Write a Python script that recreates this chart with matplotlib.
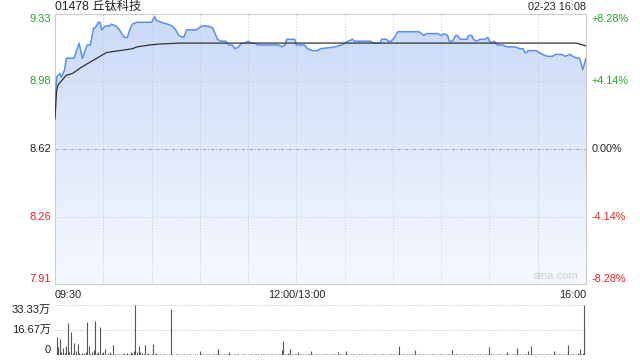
import matplotlib
matplotlib.use('Agg')
import matplotlib.pyplot as plt
import numpy as np
from matplotlib.colors import LinearSegmentedColormap

plt.rcParams['font.family'] = ['Liberation Sans', 'Noto Sans CJK SC']

# minutes since 09:30 (lunch removed, 330 = 16:00) and price
price_min = [0, 1, 3, 4, 6, 7, 9, 12, 13, 15, 17, 20, 22, 24, 25, 27, 28, 29, 31, 34,
             35, 38, 40, 43, 45, 46, 48, 51, 60, 62, 63, 66, 70, 73, 75, 77, 80, 82, 88, 91,
             95, 98, 101, 103, 106, 108, 110, 112, 114, 116, 118, 120, 122, 124, 126, 132, 134, 139, 141, 143,
             144, 149, 150, 155, 157, 160, 163, 165, 174, 178, 180, 182, 185, 186, 196, 198, 202, 203, 206, 207,
             209, 211, 213, 214, 216, 219, 226, 228, 229, 231, 238, 240, 242, 244, 245, 247, 249, 250, 252, 256,
             257, 259, 260, 262, 264, 267, 269, 270, 272, 273, 274, 275, 278, 281, 285, 286, 289, 291, 292, 293,
             294, 299, 301, 303, 306, 309, 311, 313, 315, 317, 320, 322, 324, 326, 328, 330]
price = [8.85, 9.00, 9.02, 9.00, 9.04, 9.10, 9.10, 9.10, 9.13, 9.18, 9.10, 9.17, 9.17, 9.26, 9.26, 9.29, 9.29, 9.25, 9.27, 9.27,
         9.28, 9.27, 9.25, 9.21, 9.21, 9.24, 9.28, 9.29, 9.29, 9.32, 9.30, 9.29, 9.28, 9.27, 9.25, 9.22, 9.21, 9.25, 9.25, 9.27,
         9.27, 9.26, 9.20, 9.19, 9.19, 9.17, 9.17, 9.15, 9.16, 9.18, 9.18, 9.19, 9.18, 9.18, 9.17, 9.17, 9.17, 9.17, 9.16, 9.17,
         9.20, 9.20, 9.17, 9.17, 9.15, 9.14, 9.14, 9.15, 9.16, 9.17, 9.18, 9.19, 9.20, 9.19, 9.19, 9.18, 9.18, 9.20, 9.20, 9.19,
         9.19, 9.21, 9.24, 9.24, 9.24, 9.24, 9.24, 9.23, 9.22, 9.23, 9.23, 9.22, 9.23, 9.22, 9.19, 9.19, 9.22, 9.22, 9.20, 9.20,
         9.22, 9.22, 9.20, 9.19, 9.20, 9.20, 9.21, 9.19, 9.18, 9.19, 9.18, 9.17, 9.17, 9.16, 9.16, 9.16, 9.15, 9.15, 9.13, 9.13,
         9.14, 9.14, 9.13, 9.12, 9.11, 9.11, 9.12, 9.12, 9.12, 9.11, 9.12, 9.11, 9.10, 9.10, 9.04, 9.10]

avg_min = [0, 1, 2, 5, 7, 11, 16, 20, 24, 28, 32, 40, 48, 51, 59, 65, 78, 150, 250, 324, 328, 330]
avg = [8.78, 8.93, 8.96, 8.99, 9.01, 9.02, 9.05, 9.07, 9.09, 9.11, 9.13, 9.14, 9.15, 9.16, 9.17, 9.175,
       9.18, 9.18, 9.18, 9.18, 9.17, 9.165]

# volume per minute, unit: 万 shares
volume = [
    0, 12.2, 5.5, 10.7, 2.0, 4.7, 1.5, 6.0, 21.5, 2.0, 15.6, 1.0, 8.2, 2.7, 7.3, 1.0, 0.5, 1.5, 1.5, 2.0,
    22.2, 6.0, 0.5, 2.0, 3.0, 22.9, 1.5, 2.0, 18.9, 1.5,
    2.0, 4.0, 0.3, 1.0, 2.0, 0.5, 6.5, 0.5, 0.8, 0.4, 0.8, 0.4, 0.8, 1.2, 0.5, 1.2, 0.6, 2.0, 1.2, 2.5,
    33.3, 2.0, 6.0, 2.0, 1.5, 0.6, 6.5, 0.5, 1.2, 0.4,
    0.6, 7.3, 0.5, 1.2, 0.4, 0.8, 0.3, 0.5, 0.4, 0.5, 0.3, 0.4, 30.7, 0.5, 0.3, 0.6, 0.4, 0.8, 0.3, 0.5,
    0.6, 0.3, 0.4, 0.7, 0.5, 0.3, 0.6, 0.4, 0.5, 0.3,
    2.7, 0.4, 0.6, 0.3, 0.5, 0.8, 0.4, 0.3, 0.6, 0.5, 0.4, 4.0, 0.5, 0.7, 0.3, 0.5, 0.4, 0.6, 2.2, 0.5,
    0.3, 0.8, 0.4, 0.5, 0.6, 0.3, 0.4, 0.5, 0.7, 0.3,
    0.5, 0.4, 0.6, 0.3, 0.5, 0.4, 0.7, 0.3, 0.5, 0.6, 0.4, 0.3, 0.5, 0.8, 0.4, 0.5, 0.3, 0.6, 0.4, 0.5,
    0.7, 3.3, 9.6, 0.6, 0.4, 1.0, 4.0, 0.5, 0.8, 0.4,
    0.6, 2.2, 0.5, 0.4, 0.7, 0.3, 0.5, 0.6, 0.4, 2.9, 0.5, 0.3, 0.6, 0.8, 0.4, 0.5, 0.3, 0.6, 0.4, 0.5,
    0.7, 0.3, 0.5, 0.4, 0.6, 0.3, 1.8, 0.5, 0.4, 0.6,
    0.4, 2.9, 0.5, 0.3, 0.6, 0.4, 0.5, 0.7, 0.3, 0.5, 0.4, 0.6, 0.3, 0.5, 0.8, 0.4, 0.3, 0.5, 0.6, 0.4,
    0.5, 0.3, 0.7, 0.4, 0.5, 0.6, 0.3, 0.4, 0.5, 0.6,
    0.4, 0.5, 0.3, 0.7, 6.0, 0.5, 0.4, 0.6, 0.3, 0.5, 0.4, 0.6, 0.5, 0.3, 3.3, 0.5, 0.4, 0.6, 0.3, 0.5,
    0.7, 0.4, 0.3, 0.5, 0.6, 0.4, 0.5, 0.3, 0.6, 0.4,
    0.5, 0.7, 0.3, 0.5, 0.4, 0.6, 0.3, 3.3, 0.5, 0.4, 0.6, 0.3, 0.5, 0.4, 0.7, 0.3, 0.5, 0.6, 0.4, 0.5,
    0.3, 0.6, 0.4, 0.5, 0.7, 0.3, 0.5, 0.4, 0.6, 0.5,
    5.3, 0.4, 0.6, 0.3, 0.5, 0.4, 0.7, 0.5, 0.3, 0.6, 0.4, 1.8, 0.5, 0.3, 0.6, 0.4, 0.5, 4.4, 0.4, 0.6,
    0.3, 0.5, 0.7, 0.4, 2.9, 0.5, 6.0, 0.4, 0.6, 0.3,
    0.5, 0.7, 0.4, 0.5, 0.3, 0.6, 0.4, 0.8, 0.5, 0.3, 2.9, 0.5, 0.6, 0.4, 0.7, 0.3, 0.5, 0.6, 0.4, 6.7,
    0.5, 0.4, 0.8, 0.3, 0.6, 1.2, 4.0, 0.5, 1.0, 33.3, 16.7,
]

prev_close = 8.62
pct_levels = [8.28, 4.14, 0.0, -4.14, -8.28]
price_labels = ['9.33', '8.98', '8.62', '8.26', '7.91']
pct_labels = ['+8.28%', '+4.14%', '0.00%', '-4.14%', '-8.28%']
label_colors = ['#22a822', '#22a822', '#222222', '#ee2222', '#ee2222']
vol_ticks = [33.33, 16.67, 0]
vol_labels = ['33.33万', '16.67万', '0']

ymax = prev_close * (1 + pct_levels[0] / 100)
ymin = prev_close * (1 + pct_levels[-1] / 100)

fig = plt.figure(figsize=(6.4, 3.6), dpi=100)
ax = fig.add_axes([55 / 640, 1 - 284 / 360, 531 / 640, 270 / 360])
axv = fig.add_axes([55 / 640, 1 - 355 / 360, 531 / 640, 50 / 360])

ax.set_xlim(0, 330)
ax.set_ylim(ymin, ymax)

# gradient fill under the price line
poly = ax.fill_between(price_min, price, ymin, facecolor='none', edgecolor='none')
cmap = LinearSegmentedColormap.from_list('fill', ['#f6f9ff', '#c9daf8'])
grad = np.linspace(0, 1, 256).reshape(-1, 1)
img = ax.imshow(grad, cmap=cmap, aspect='auto', origin='lower',
                extent=[0, 330, ymin, ymax], zorder=1)
img.set_clip_path(poly.get_paths()[0], transform=ax.transData)

for m in range(30, 330, 30):
    ax.axvline(m, color='#c8c8c8', lw=0.7, ls=(0, (1, 2)), zorder=2)
for p in pct_levels[1:-1]:
    lvl = prev_close * (1 + p / 100)
    if p == 0:
        ax.axhline(lvl, color='#a0a0a0', lw=0.7, ls=(0, (3, 2, 1, 2)), zorder=2)
    else:
        ax.axhline(lvl, color='#c8c8c8', lw=0.7, ls=(0, (1, 2)), zorder=2)

ax.plot(price_min, price, color='#5b8ef0', lw=1.1, zorder=3)
ax.plot(avg_min, avg, color='#333333', lw=0.9, zorder=4)

ax.set_xticks([])
ax.set_yticks([])
for s in ax.spines.values():
    s.set_color('#cccccc')
    s.set_linewidth(0.8)

tr = ax.get_yaxis_transform()
for i, p in enumerate(pct_levels):
    lvl = prev_close * (1 + p / 100)
    va = 'top' if i == 0 else ('bottom' if i == len(pct_levels) - 1 else 'center')
    ax.text(-0.007, lvl, price_labels[i], transform=tr, ha='right', va=va,
            color=label_colors[i], fontsize=8)
    ax.text(1.01, lvl, pct_labels[i], transform=tr, ha='left', va=va,
            color=label_colors[i], fontsize=7.8)

fig.text(55 / 640, 1 - 7 / 360, '01478 丘钛科技', ha='left', va='center',
         fontsize=8.8, color='#222222')
fig.text(586 / 640, 1 - 7 / 360, '02-23 16:08', ha='right', va='center',
         fontsize=7.8, color='#222222')
ax.text(0.985, 0.012, 'sina.com', transform=ax.transAxes, ha='right', va='bottom',
        fontsize=8, color='#cccccc')

ax.text(0, -0.022, '09:30', transform=ax.transAxes, ha='left', va='top', fontsize=7.8, color='#222222')
ax.text(150 / 330, -0.022, '12:00/13:00', transform=ax.transAxes, ha='center', va='top',
        fontsize=7.8, color='#222222')
ax.text(1, -0.022, '16:00', transform=ax.transAxes, ha='right', va='top', fontsize=7.8, color='#222222')

# volume panel
axv.set_xlim(0, 330)
axv.set_ylim(0, 33.33)
axv.vlines(np.arange(len(volume)), 0, volume, color='#555555', lw=0.8)
for v in vol_ticks[:2]:
    axv.axhline(v, color='#c8c8c8', lw=0.7, ls=(0, (1, 1.5)), zorder=0)
trv = axv.get_yaxis_transform()
for i, v in enumerate(vol_ticks):
    va = 'top' if i == 0 else ('bottom' if i == len(vol_ticks) - 1 else 'center')
    axv.text(-0.008, v, vol_labels[i], transform=trv, ha='right', va=va,
             fontsize=8, color='#222222')
axv.set_xticks([])
axv.set_yticks([])
for s in axv.spines.values():
    s.set_visible(False)

fig.savefig('out.png', dpi=100)
